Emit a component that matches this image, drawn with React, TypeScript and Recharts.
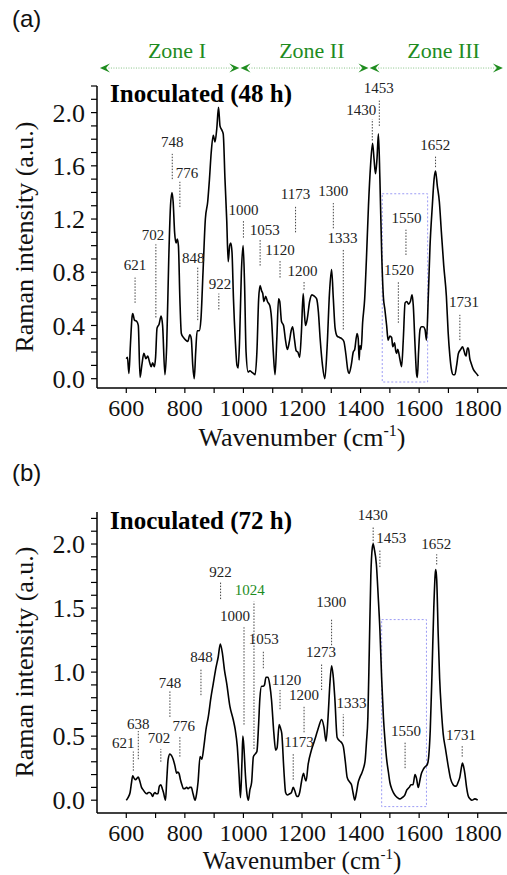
import React from 'react'
import { ComposedChart, Line, XAxis, YAxis, ReferenceLine, ReferenceDot, ReferenceArea } from 'recharts'

const SERIF = '"Liberation Serif", "Times New Roman", serif'
const SANS = '"Liberation Sans", Arial, sans-serif'
const GREEN = '#1e8c1e'

// (a) Inoculated 48 h
const wavenumberA = [
  600, 604, 609, 614, 620, 622, 628, 636, 641, 647, 653, 660, 667, 673, 680, 685, 690, 696, 700, 705,
  712, 719, 724, 732, 738, 745, 751, 756, 760, 765, 770, 774, 778, 783, 788, 795, 803, 810, 817, 822,
  827, 832, 837, 842, 849, 855, 862, 870, 878, 884, 890, 897, 903, 909, 915, 920, 926, 931, 937, 943,
  948, 953, 957, 961, 966, 972, 978, 982, 987, 993, 999, 1004, 1009, 1016, 1022, 1028, 1034, 1040, 1046, 1052,
  1057, 1062, 1066, 1070, 1076, 1082, 1090, 1096, 1102, 1108, 1114, 1120, 1124, 1130, 1137, 1143, 1150, 1157, 1163, 1168,
  1174, 1180, 1186, 1192, 1198, 1204, 1208, 1212, 1218, 1226, 1234, 1242, 1250, 1256, 1262, 1270, 1278, 1286, 1294, 1301,
  1307, 1313, 1320, 1328, 1336, 1343, 1350, 1356, 1361, 1368, 1375, 1380, 1388, 1392, 1395, 1398, 1402, 1407, 1414, 1420,
  1427, 1434, 1441, 1446, 1451, 1456, 1461, 1466, 1472, 1478, 1483, 1489, 1494, 1500, 1506, 1510, 1516, 1520, 1523, 1527,
  1534, 1540, 1546, 1552, 1558, 1564, 1570, 1576, 1580, 1586, 1591, 1594, 1598, 1603, 1608, 1614, 1620, 1625, 1631, 1637,
  1645, 1651, 1656, 1662, 1669, 1676, 1684, 1693, 1699, 1705, 1711, 1716, 1722, 1728, 1734, 1742, 1748, 1752, 1757, 1760,
  1765, 1768, 1773, 1777, 1785, 1795, 1802,
]
const intensityA = [
  0.15, 0.16, 0.04, 0.25, 0.47, 0.49, 0.44, 0.43, 0.40, 0.01, 0.10, 0.19, 0.15, 0.17, 0.12, 0.09, 0.12, 0.09, 0.16, 0.38,
  0.41, 0.47, 0.40, 0.03, 0.25, 0.90, 1.30, 1.40, 1.33, 1.10, 1.02, 1.05, 1.00, 0.60, 0.34, 0.31, 0.29, 0.28, 0.33, 0.30,
  0.10, 0.00, 0.20, 0.36, 0.36, 0.45, 0.80, 1.20, 1.33, 1.50, 1.70, 1.83, 1.78, 1.88, 2.04, 1.90, 1.87, 1.84, 1.50, 1.19,
  0.88, 1.00, 1.02, 0.95, 0.60, 0.30, 0.10, 0.08, 0.30, 0.80, 1.00, 0.70, 0.20, 0.05, 0.06, 0.05, 0.04, 0.03, 0.20, 0.60,
  0.70, 0.66, 0.64, 0.58, 0.62, 0.58, 0.55, 0.45, 0.20, 0.03, 0.30, 0.60, 0.58, 0.43, 0.40, 0.30, 0.22, 0.28, 0.36, 0.39,
  0.30, 0.21, 0.20, 0.16, 0.35, 0.64, 0.50, 0.40, 0.45, 0.58, 0.63, 0.62, 0.60, 0.50, 0.30, 0.10, 0.00, 0.25, 0.65, 0.82,
  0.60, 0.38, 0.32, 0.31, 0.30, 0.28, 0.18, 0.07, 0.04, 0.10, 0.20, 0.22, 0.34, 0.30, 0.14, 0.25, 0.22, 0.42, 0.60, 0.90,
  1.30, 1.60, 1.77, 1.65, 1.54, 1.65, 1.84, 1.50, 0.95, 0.61, 0.52, 0.40, 0.29, 0.32, 0.31, 0.24, 0.27, 0.21, 0.19, 0.22,
  0.15, 0.09, 0.30, 0.57, 0.58, 0.56, 0.58, 0.63, 0.55, 0.25, 0.04, 0.01, 0.20, 0.37, 0.39, 0.39, 0.37, 0.29, 0.60, 0.99,
  1.30, 1.50, 1.56, 1.45, 1.33, 1.10, 0.85, 0.62, 0.35, 0.17, 0.06, 0.03, 0.03, 0.10, 0.19, 0.22, 0.24, 0.22, 0.18, 0.17,
  0.23, 0.23, 0.15, 0.12, 0.07, 0.04, 0.02,
]

// (b) Inoculated 72 h
const wavenumberB = [
  600, 606, 613, 618, 622, 627, 632, 636, 641, 646, 652, 658, 664, 670, 676, 680, 685, 690, 694, 698,
  703, 708, 713, 718, 723, 727, 734, 738, 743, 749, 754, 760, 766, 772, 776, 780, 785, 790, 795, 800,
  806, 811, 817, 822, 828, 835, 840, 845, 852, 858, 865, 872, 880, 889, 897, 905, 914, 921, 928, 935,
  943, 954, 965, 972, 979, 985, 990, 995, 998, 1002, 1007, 1012, 1017, 1022, 1028, 1034, 1040, 1046, 1052, 1056,
  1062, 1068, 1072, 1077, 1084, 1090, 1096, 1104, 1110, 1115, 1122, 1127, 1131, 1138, 1144, 1150, 1158, 1164, 1170, 1176,
  1182, 1187, 1192, 1198, 1205, 1210, 1214, 1221, 1232, 1242, 1250, 1258, 1267, 1275, 1282, 1289, 1295, 1301, 1306, 1312,
  1320, 1330, 1335, 1341, 1348, 1354, 1360, 1369, 1375, 1380, 1386, 1392, 1398, 1404, 1410, 1416, 1420, 1425, 1430, 1435,
  1440, 1443, 1447, 1454, 1460, 1466, 1472, 1478, 1484, 1489, 1495, 1500, 1508, 1517, 1526, 1534, 1542, 1551, 1558, 1566,
  1572, 1579, 1586, 1591, 1597, 1603, 1608, 1614, 1620, 1628, 1633, 1638, 1644, 1650, 1655, 1657, 1660, 1665, 1670, 1676,
  1682, 1690, 1699, 1707, 1716, 1722, 1727, 1733, 1739, 1744, 1748, 1752, 1756, 1762, 1768, 1774, 1780, 1790, 1800,
]
const intensityB = [
  0.00, 0.02, 0.06, 0.14, 0.19, 0.17, 0.16, 0.17, 0.18, 0.15, 0.10, 0.08, 0.06, 0.05, 0.06, 0.06, 0.05, 0.03, 0.05, 0.06,
  0.05, 0.05, 0.11, 0.12, 0.09, 0.06, 0.00, 0.15, 0.32, 0.36, 0.35, 0.32, 0.27, 0.21, 0.22, 0.21, 0.16, 0.12, 0.09, 0.09,
  0.10, 0.09, 0.10, 0.10, 0.05, 0.00, 0.05, 0.14, 0.34, 0.32, 0.42, 0.55, 0.65, 0.80, 0.91, 1.02, 1.12, 1.22, 1.15, 1.02,
  0.91, 0.73, 0.63, 0.55, 0.42, 0.20, 0.02, 0.30, 0.50, 0.40, 0.19, 0.05, 0.00, 0.08, 0.14, 0.34, 0.36, 0.38, 0.60, 0.79,
  0.89, 0.89, 0.90, 0.96, 0.96, 0.90, 0.78, 0.52, 0.39, 0.41, 0.59, 0.56, 0.52, 0.24, 0.06, 0.04, 0.05, 0.06, 0.10, 0.07,
  0.03, 0.03, 0.06, 0.14, 0.21, 0.17, 0.15, 0.28, 0.39, 0.46, 0.52, 0.58, 0.63, 0.57, 0.46, 0.65, 0.90, 1.05, 0.98, 0.80,
  0.49, 0.46, 0.45, 0.42, 0.30, 0.18, 0.15, 0.12, 0.05, 0.00, 0.06, 0.14, 0.18, 0.21, 0.25, 0.32, 0.45, 0.65, 1.20, 1.75,
  1.97, 2.00, 1.96, 1.84, 1.60, 1.33, 0.95, 0.65, 0.45, 0.32, 0.22, 0.14, 0.08, 0.04, 0.02, 0.01, 0.02, 0.04, 0.08, 0.10,
  0.12, 0.12, 0.20, 0.17, 0.10, 0.16, 0.21, 0.24, 0.26, 0.28, 0.35, 0.55, 1.00, 1.50, 1.77, 1.80, 1.72, 1.30, 0.95, 0.70,
  0.52, 0.40, 0.27, 0.17, 0.12, 0.11, 0.11, 0.14, 0.18, 0.25, 0.29, 0.26, 0.21, 0.10, 0.03, 0.01, 0.00, 0.01, 0.00,
]

const xTicks = [600, 700, 800, 900, 1000, 1100, 1200, 1300, 1400, 1500, 1600, 1700, 1800]
const xTickLabels = [600, 800, 1000, 1200, 1400, 1600, 1800]
const yTicksA = [0, 0.1, 0.2, 0.3, 0.4, 0.5, 0.6, 0.7, 0.8, 0.9, 1.0, 1.1, 1.2, 1.3, 1.4, 1.5, 1.6, 1.7, 1.8, 1.9, 2.0, 2.1, 2.2]
const yTickLabelsA = [0, 0.4, 0.8, 1.2, 1.6, 2.0]
const yTicksB = [0, 0.1, 0.2, 0.3, 0.4, 0.5, 0.6, 0.7, 0.8, 0.9, 1.0, 1.1, 1.2, 1.3, 1.4, 1.5, 1.6, 1.7, 1.8, 1.9, 2.0, 2.1, 2.2]
const yTickLabelsB = [0, 0.5, 1.0, 1.5, 2.0]

const zonesA = [
  { name: 'Zone I', from: 510, to: 986 },
  { name: 'Zone II', from: 990, to: 1427 },
  { name: 'Zone III', from: 1431, to: 1886 },
]
const zoneArrowLevel = 2.335
const zoneLabelLevel = 2.47

type Peak = { text: string; w: number; lo: number; hi: number; lw: number; lv: number; green?: boolean }

// w/lo/hi: dotted marker, lw/lv: where its number sits
const peaksA: Peak[] = [
  { text: '621', w: 630, lo: 0.57, hi: 0.76, lw: 630, lv: 0.86 },
  { text: '702', w: 701, lo: 0.46, hi: 1.01, lw: 691, lv: 1.08 },
  { text: '748', w: 757, lo: 1.5, hi: 1.69, lw: 757, lv: 1.78 },
  { text: '776', w: 783, lo: 1.29, hi: 1.48, lw: 807, lv: 1.55 },
  { text: '848', w: 844, lo: 0.44, hi: 0.84, lw: 829, lv: 0.91 },
  { text: '922', w: 916, lo: 0.52, hi: 0.64, lw: 920, lv: 0.71 },
  { text: '1000', w: 1000, lo: 1.06, hi: 1.19, lw: 1000, lv: 1.27 },
  { text: '1053', w: 1057, lo: 0.85, hi: 1.05, lw: 1073, lv: 1.12 },
  { text: '1120', w: 1125, lo: 0.76, hi: 0.89, lw: 1125, lv: 0.97 },
  { text: '1173', w: 1178, lo: 1.1, hi: 1.3, lw: 1178, lv: 1.39 },
  { text: '1200', w: 1207, lo: 0.67, hi: 0.73, lw: 1202, lv: 0.81 },
  { text: '1300', w: 1307, lo: 1.13, hi: 1.32, lw: 1307, lv: 1.41 },
  { text: '1333', w: 1341, lo: 0.37, hi: 0.97, lw: 1338, lv: 1.06 },
  { text: '1430', w: 1440, lo: 1.79, hi: 1.95, lw: 1402, lv: 2.02 },
  { text: '1453', w: 1464, lo: 1.9, hi: 2.09, lw: 1462, lv: 2.19 },
  { text: '1520', w: 1529, lo: 0.42, hi: 0.73, lw: 1531, lv: 0.82 },
  { text: '1550', w: 1555, lo: 0.93, hi: 1.12, lw: 1557, lv: 1.21 },
  { text: '1652', w: 1656, lo: 1.59, hi: 1.67, lw: 1655, lv: 1.76 },
  { text: '1731', w: 1739, lo: 0.29, hi: 0.48, lw: 1753, lv: 0.58 },
]

const peaksB: Peak[] = [
  { text: '621', w: 624, lo: 0.23, hi: 0.38, lw: 590, lv: 0.45 },
  { text: '638', w: 641, lo: 0.32, hi: 0.54, lw: 641, lv: 0.6 },
  { text: '702', w: 718, lo: 0.3, hi: 0.4, lw: 712, lv: 0.49 },
  { text: '748', w: 749, lo: 0.65, hi: 0.85, lw: 749, lv: 0.92 },
  { text: '776', w: 783, lo: 0.34, hi: 0.5, lw: 796, lv: 0.58 },
  { text: '848', w: 855, lo: 0.82, hi: 1.02, lw: 857, lv: 1.12 },
  { text: '922', w: 922, lo: 1.57, hi: 1.7, lw: 922, lv: 1.78 },
  { text: '1024', w: 1036, lo: 0.4, hi: 1.55, lw: 1022, lv: 1.64, green: true },
  { text: '1000', w: 1002, lo: 0.59, hi: 1.35, lw: 971, lv: 1.44 },
  { text: '1053', w: 1068, lo: 1.03, hi: 1.17, lw: 1069, lv: 1.26 },
  { text: '1120', w: 1125, lo: 0.71, hi: 0.86, lw: 1147, lv: 0.94 },
  { text: '1200', w: 1207, lo: 0.53, hi: 0.73, lw: 1207, lv: 0.82 },
  { text: '1173', w: 1170, lo: 0.16, hi: 0.37, lw: 1190, lv: 0.46 },
  { text: '1273', w: 1267, lo: 0.86, hi: 1.07, lw: 1265, lv: 1.16 },
  { text: '1300', w: 1301, lo: 1.21, hi: 1.42, lw: 1300, lv: 1.55 },
  { text: '1333', w: 1341, lo: 0.5, hi: 0.67, lw: 1369, lv: 0.76 },
  { text: '1430', w: 1443, lo: 2.0, hi: 2.13, lw: 1442, lv: 2.23 },
  { text: '1453', w: 1466, lo: 1.82, hi: 1.96, lw: 1505, lv: 2.05 },
  { text: '1652', w: 1660, lo: 1.84, hi: 1.92, lw: 1658, lv: 2.0 },
  { text: '1550', w: 1552, lo: 0.25, hi: 0.45, lw: 1555, lv: 0.54 },
  { text: '1731', w: 1747, lo: 0.34, hi: 0.43, lw: 1743, lv: 0.51 },
]

const boxA = { x1: 1474, x2: 1629, y1: -0.025, y2: 1.39 }
const boxB = { x1: 1472, x2: 1625, y1: -0.05, y2: 1.41 }

const near = (v: number, list: number[]) => list.some((t) => Math.abs(t - v) < 1e-6)

const XTick = (props: any) => {
  const { x, y, payload } = props
  if (!near(payload.value, xTickLabels)) return <g />
  return (
    <text x={x} y={y} dy="0.71em" textAnchor="middle" fontSize={24} fontFamily={SERIF} fill="#111">
      {payload.value}
    </text>
  )
}

const makeYTick = (labels: number[]) => (props: any) => {
  const { x, y, payload } = props
  if (!near(payload.value, labels)) return <g />
  return (
    <text x={x} y={y} dy="0.35em" textAnchor="end" fontSize={26} fontFamily={SERIF} fill="#111">
      {payload.value.toFixed(1)}
    </text>
  )
}

const ZoneArrow = (props: any) => {
  const { x1, y1, x2 } = props
  const head = (tip: number, dir: number) =>
    `M${tip},${y1} L${tip - dir * 10},${y1 - 4.5} L${tip - dir * 6},${y1} L${tip - dir * 10},${y1 + 4.5} Z`
  return (
    <g>
      <line x1={x1 + 6} y1={y1} x2={x2 - 6} y2={y1} stroke="#86c286" strokeWidth={1} strokeDasharray="1 1.5" />
      <path d={head(x1, -1)} fill={GREEN} />
      <path d={head(x2, 1)} fill={GREEN} />
    </g>
  )
}

const textShape = (text: string, color: string, size: number) => (props: any) => (
  <text x={props.cx} y={props.cy} dy="0.35em" textAnchor="middle" fontSize={size} fontFamily={SERIF} fill={color}>
    {text}
  </text>
)

interface PanelProps {
  wave: number[]
  inten: number[]
  height: number
  top: number
  yDomain: [number, number]
  yTicks: number[]
  yLabels: number[]
  peaks: Peak[]
  box: { x1: number; x2: number; y1: number; y2: number }
  zones?: { name: string; from: number; to: number }[]
}

function Panel({ wave, inten, height, top, yDomain, yTicks, yLabels, peaks, box, zones }: PanelProps) {
  const data = wave.map((w, i) => ({ w, v: inten[i] }))
  return (
    <ComposedChart width={507} height={height} data={data} margin={{ top, right: 0, bottom: 0, left: 0 }}>
      <XAxis
        type="number"
        dataKey="w"
        domain={[500, 1900]}
        ticks={xTicks}
        interval={0}
        allowDataOverflow
        height={62}
        tickSize={5}
        tickMargin={6}
        tick={XTick}
        axisLine={{ stroke: '#000', strokeWidth: 1.5 }}
        tickLine={{ stroke: '#000', strokeWidth: 1.2 }}
      />
      <YAxis
        type="number"
        domain={yDomain}
        ticks={yTicks}
        interval={0}
        allowDataOverflow
        width={97}
        tickSize={6}
        tickMargin={6}
        tick={makeYTick(yLabels)}
        axisLine={{ stroke: '#000', strokeWidth: 1.5 }}
        tickLine={{ stroke: '#000', strokeWidth: 1.2 }}
      />
      <ReferenceArea
        x1={box.x1}
        x2={box.x2}
        y1={box.y1}
        y2={box.y2}
        ifOverflow="visible"
        fill="none"
        stroke="#9c9cf5"
        strokeWidth={1}
        strokeDasharray="2 2"
      />
      {(zones || []).map((z) => (
        <ReferenceLine
          key={z.name}
          segment={[
            { x: z.from, y: zoneArrowLevel },
            { x: z.to, y: zoneArrowLevel },
          ]}
          ifOverflow="visible"
          shape={ZoneArrow}
        />
      ))}
      {(zones || []).map((z) => (
        <ReferenceDot
          key={z.name + '-t'}
          x={(z.from + z.to) / 2 + 25}
          y={zoneLabelLevel}
          r={0}
          ifOverflow="visible"
          shape={textShape(z.name, GREEN, 22)}
        />
      ))}
      {peaks.map((p) => (
        <ReferenceLine
          key={p.text + '-l'}
          segment={[
            { x: p.w, y: p.lo },
            { x: p.w, y: p.hi },
          ]}
          ifOverflow="visible"
          stroke="#444"
          strokeWidth={1}
          strokeDasharray="1.5 1.5"
        />
      ))}
      {peaks.map((p) => (
        <ReferenceDot
          key={p.text + '-t'}
          x={p.lw}
          y={p.lv}
          r={0}
          ifOverflow="visible"
          shape={textShape(p.text, p.green ? GREEN : '#222', 15)}
        />
      ))}
      <Line type="monotone" dataKey="v" stroke="#000" strokeWidth={1.6} dot={false} isAnimationActive={false} />
    </ComposedChart>
  )
}

export default function App() {
  return (
    <div style={{ position: 'relative', width: 507, height: 875, background: '#fff', overflow: 'hidden' }}>
      <style>{'body{margin:0}'}</style>
      <div style={{ position: 'absolute', left: 0, top: 0 }}>
        <Panel
          wave={wavenumberA}
          inten={intensityA}
          height={450}
          top={86}
          yDomain={[-0.07, 2.2]}
          yTicks={yTicksA}
          yLabels={yTickLabelsA}
          peaks={peaksA}
          box={boxA}
          zones={zonesA}
        />
      </div>
      <div style={{ position: 'absolute', left: 0, top: 450 }}>
        <Panel
          wave={wavenumberB}
          inten={intensityB}
          height={425}
          top={62}
          yDomain={[-0.1, 2.25]}
          yTicks={yTicksB}
          yLabels={yTickLabelsB}
          peaks={peaksB}
          box={boxB}
        />
      </div>
      <svg width={507} height={875} style={{ position: 'absolute', left: 0, top: 0, pointerEvents: 'none' }}>
        <text x={12} y={27} fontSize={24} fontFamily={SANS} fill="#111">(a)</text>
        <text x={12} y={481} fontSize={24} fontFamily={SANS} fill="#111">(b)</text>
        <text x={110} y={102} fontSize={25} fontWeight="bold" fontFamily={SERIF} fill="#000">Inoculated (48 h)</text>
        <text x={110} y={529} fontSize={25} fontWeight="bold" fontFamily={SERIF} fill="#000">Inoculated (72 h)</text>
        <text x={302} y={446} fontSize={26} textAnchor="middle" fontFamily={SERIF} fill="#111">
          Wavenumber (cm<tspan fontSize={16} dy={-10}>-1</tspan><tspan dy={10}>)</tspan>
        </text>
        <text x={302} y={869} fontSize={25} textAnchor="middle" fontFamily={SERIF} fill="#111">
          Wavenumber (cm<tspan fontSize={15} dy={-10}>-1</tspan><tspan dy={10}>)</tspan>
        </text>
        <text x={33} y={237} fontSize={26} textAnchor="middle" fontFamily={SERIF} fill="#111" transform="rotate(-90 33 237)">
          Raman intensity (a.u.)
        </text>
        <text x={33} y={662} fontSize={26} textAnchor="middle" fontFamily={SERIF} fill="#111" transform="rotate(-90 33 662)">
          Raman intensity (a.u.)
        </text>
      </svg>
    </div>
  )
}
